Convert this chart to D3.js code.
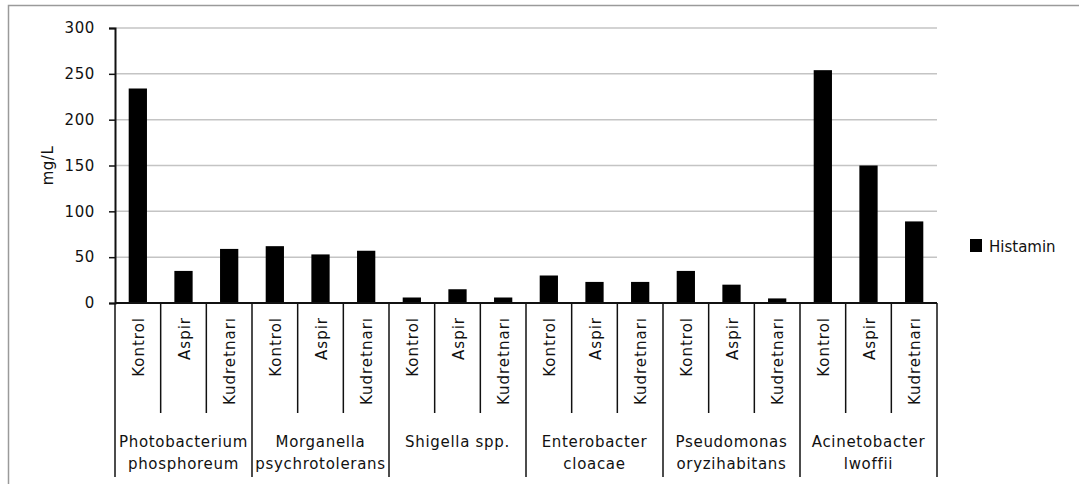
<!DOCTYPE html>
<html>
<head>
<meta charset="utf-8">
<script src="https://cdn.jsdelivr.net/npm/d3@7"></script>
<style>
  html, body { margin: 0; padding: 0; background: #fff; }
  svg { display: block; }
  text { font-family: "DejaVu Sans", Verdana, sans-serif; fill: #111; }
</style>
</head>
<body>
<svg id="chart" width="1079" height="484"></svg>
<script>
// Histamine production (mg/L) per bacterial species and treatment
const species = [
  ["Photobacterium", "phosphoreum"],
  ["Morganella", "psychrotolerans"],
  ["Shigella spp."],
  ["Enterobacter", "cloacae"],
  ["Pseudomonas", "oryzihabitans"],
  ["Acinetobacter", "lwoffii"]
];
const treatments = ["Kontrol", "Aspir", "Kudretnarı"];
const histamin = [
  234, 35, 59,
  62, 53, 57,
  6, 15, 6,
  30, 23, 23,
  35, 20, 5,
  254, 150, 89
];
const yTicks = [0, 50, 100, 150, 200, 250, 300];
const seriesName = "Histamin";
const yLabel = "mg/L";

const svg = d3.select("#chart");

// outer frame (runs off the right and bottom edges)
svg.append("rect")
  .attr("x", 8.5).attr("y", 5.5)
  .attr("width", 1100).attr("height", 500)
  .attr("fill", "none").attr("stroke", "#9a9a9a").attr("stroke-width", 1.5);

const plotL = 115, plotR = 937, plotT = 28, plotB = 303;

const bars = histamin.map((v, i) => ({
  key: i,
  species: Math.floor(i / treatments.length),
  treatment: treatments[i % treatments.length],
  value: v
}));

const x = d3.scaleBand()
  .domain(bars.map(d => d.key))
  .range([plotL, plotR])
  .paddingInner(0.6)
  .paddingOuter(0.3);
const step = x.step();

const y = d3.scaleLinear().domain([0, 300]).range([plotB, plotT]);

// gridlines
svg.append("g")
  .selectAll("line")
  .data(yTicks.filter(t => t > 0))
  .join("line")
  .attr("x1", plotL).attr("x2", plotR)
  .attr("y1", d => y(d)).attr("y2", d => y(d))
  .attr("stroke", "#c4c4c4").attr("stroke-width", 1.5);

// y axis
const yAxis = svg.append("g")
  .attr("transform", `translate(${plotL},0)`)
  .call(d3.axisLeft(y).tickValues(yTicks).tickSize(6).tickPadding(14));
yAxis.select(".domain").attr("stroke", "#111").attr("stroke-width", 2);
yAxis.selectAll(".tick line").attr("stroke", "#111").attr("stroke-width", 1.5);
yAxis.selectAll(".tick text")
  .style("font-family", "'DejaVu Sans', Verdana, sans-serif")
  .style("font-size", "15px")
  .style("letter-spacing", "0.6px")
  .attr("fill", "#111");

svg.append("text")
  .attr("transform", `translate(53,${(plotT + plotB) / 2}) rotate(-90)`)
  .attr("text-anchor", "middle")
  .style("font-size", "15px")
  .style("letter-spacing", "0.5px")
  .text(yLabel);

// bars
svg.append("g")
  .selectAll("rect")
  .data(bars)
  .join("rect")
  .attr("x", d => x(d.key))
  .attr("width", x.bandwidth())
  .attr("y", d => y(d.value))
  .attr("height", d => y(0) - y(d.value))
  .attr("fill", "#000");

// category axis: separators, treatment labels, species labels
const xg = svg.append("g");
d3.range(bars.length + 1).forEach(i => {
  const xp = plotL + i * step;
  const isGroup = i % treatments.length === 0;
  xg.append("line")
    .attr("x1", xp).attr("x2", xp)
    .attr("y1", plotB).attr("y2", isGroup ? 477 : 413)
    .attr("stroke", "#111").attr("stroke-width", 1.5);
});
xg.append("line")
  .attr("x1", plotL).attr("x2", plotR)
  .attr("y1", plotB).attr("y2", plotB)
  .attr("stroke", "#111").attr("stroke-width", 2);

xg.selectAll("text.treat")
  .data(bars)
  .join("text")
  .attr("class", "treat")
  .attr("transform", d => `translate(${x(d.key) + x.bandwidth() / 2 + 6},317) rotate(-90)`)
  .attr("text-anchor", "end")
  .style("font-size", "15px")
  .style("letter-spacing", "1px")
  .text(d => d.treatment);

species.forEach((lines, s) => {
  const cx = plotL + (s * treatments.length + treatments.length / 2) * step;
  lines.forEach((ln, j) => {
    xg.append("text")
      .attr("x", cx).attr("y", 447 + j * 22)
      .attr("text-anchor", "middle")
      .style("font-size", "15px")
      .style("letter-spacing", "0.7px")
      .text(ln);
  });
});

// legend
const lg = svg.append("g").attr("transform", "translate(970,239)");
lg.append("rect").attr("width", 12).attr("height", 13).attr("fill", "#000");
lg.append("text").attr("x", 19).attr("y", 12.5).style("font-size", "15px").text(seriesName);
</script>
</body>
</html>
